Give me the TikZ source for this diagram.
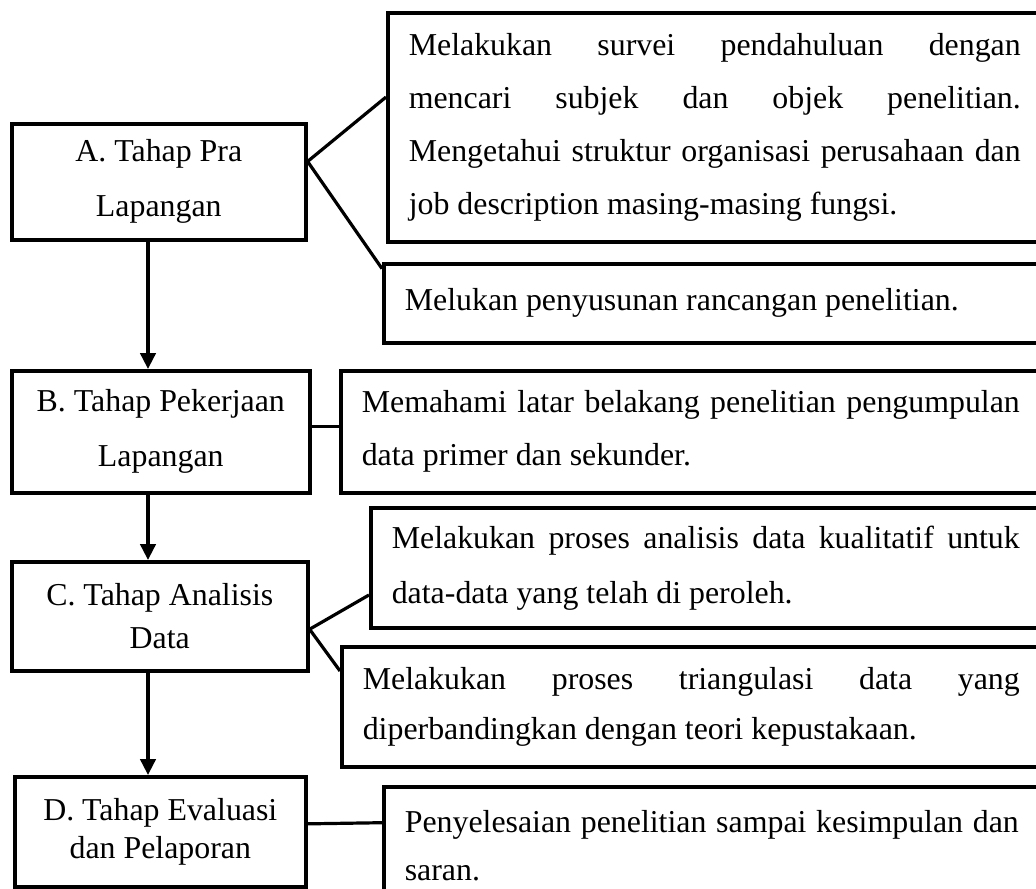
\documentclass[tikz,border=0pt]{standalone}
\usepackage{fontspec}
\setmainfont{Liberation Serif}
\usetikzlibrary{arrows.meta,calc}
\tikzset{
  box/.style={draw, line width=2.7pt, rectangle, anchor=north west, inner sep=0pt},
  lbox/.style={box, align=center},
  rbox/.style={box, align=justify, inner xsep=15.75pt, inner ysep=0pt},
  conn/.style={line width=2.4pt},
  arr/.style={line width=2.6pt, -{Triangle[length=12pt,width=11.5pt]}},
}
\newcommand{\fs}[1]{\fontsize{23.9}{#1}\selectfont\hyphenpenalty=10000\exhyphenpenalty=10000\frenchspacing}
\begin{document}
\begin{tikzpicture}[x=0.75pt,y=-0.75pt]
\useasboundingbox (0,0) rectangle (1036,889);
\clip (0,0) rectangle (1036,889);
\fill[white] (0,0) rectangle (1036,889);
% left boxes
\node[lbox, minimum width=220.5pt, minimum height=87pt, font=\fs{41.25pt}] (A) at (10,122) {A. Tahap Pra\\Lapangan};
\node[lbox, minimum width=223.5pt, minimum height=91.5pt, font=\fs{41.25pt}] (B) at (10,369) {B. Tahap Pekerjaan\\Lapangan};
\node[lbox, minimum width=222pt, minimum height=81.75pt, font=\fs{32.25pt}] (C) at (10,560) {C. Tahap Analisis\\Data};
\node[lbox, minimum width=218.25pt, minimum height=82.5pt, font=\fs{28.5pt}] (D) at (13,775) {D. Tahap Evaluasi\\dan Pelaporan};
% right boxes
\node[rbox, text width=459pt, minimum height=171.75pt, font=\fs{39.75pt}] (R1) at (386,11)
  {Melakukan survei pendahuluan dengan\linebreak mencari subjek dan objek penelitian.\linebreak Mengetahui struktur organisasi perusahaan dan\linebreak job description masing-masing fungsi.};
\node[rbox, text width=459pt, minimum height=59.25pt, font=\fs{39.75pt}] (R2) at (382,262)
  {Melukan penyusunan rancangan penelitian.};
\node[rbox, text width=493.5pt, minimum height=91.5pt, font=\fs{39.75pt}] (R3) at (339,369)
  {Memahami latar belakang penelitian pengumpulan\linebreak data primer dan sekunder.};
\node[rbox, text width=471pt, minimum height=90pt, font=\fs{41.25pt}] (R4) at (369,506)
  {Melakukan proses analisis data kualitatif untuk\linebreak data-data yang telah di peroleh.};
\node[rbox, text width=492.75pt, minimum height=90pt, font=\fs{37.5pt}] (R5) at (340,645)
  {Melakukan proses triangulasi data yang\linebreak diperbandingkan dengan teori kepustakaan.};
\node[rbox, text width=460.5pt, minimum height=88.5pt, font=\fs{36pt}] (R6) at (382,785)
  {Penyelesaian penelitian sampai kesimpulan dan\linebreak saran.};
% connectors
\coordinate (ax) at (148,0);
\draw[arr] (A.south -| ax) -- (B.north -| ax);
\draw[arr] (B.south -| ax) -- (C.north -| ax);
\draw[arr] (C.south -| ax) -- (D.north -| ax);
\coordinate (a1) at ($(A.north east)!0.33!(A.south east)$);
\draw[conn] (a1) -- ($(R1.north west)!0.37!(R1.south west)$);
\draw[conn] (a1) -- ($(R2.north west)!0.08!(R2.south west)$);
\draw[conn] ($(B.north east)!0.46!(B.south east)$) -- ($(R3.north west)!0.46!(R3.south west)$);
\coordinate (c1) at ($(C.north east)!0.615!(C.south east)$);
\draw[conn] (c1) -- ($(R4.north west)!0.72!(R4.south west)$);
\draw[conn] (c1) -- ($(R5.north west)!0.21!(R5.south west)$);
\draw[conn] ($(D.north east)!0.43!(D.south east)$) -- ($(R6.north west)!0.31!(R6.south west)$);
\end{tikzpicture}
\end{document}
